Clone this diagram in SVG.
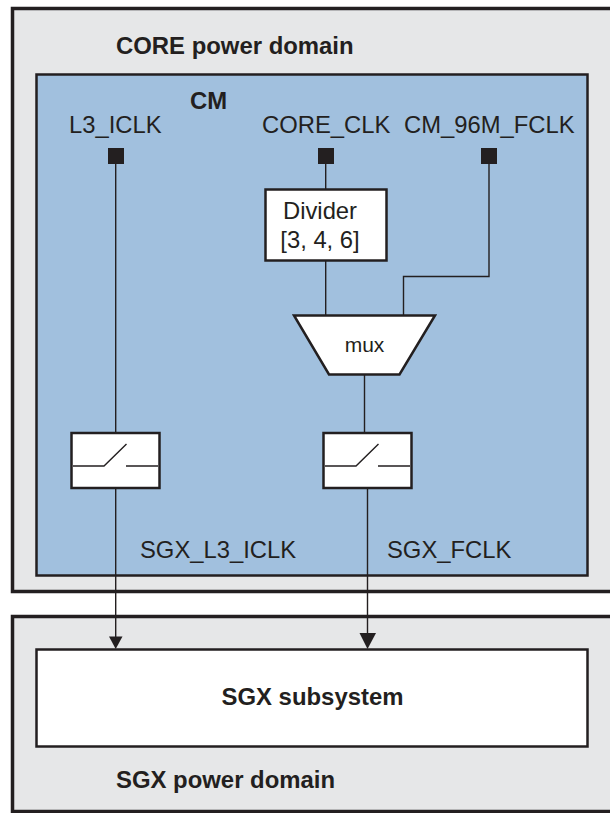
<svg xmlns="http://www.w3.org/2000/svg" width="610" height="813" viewBox="0 0 610 813">
<style>
text{font-family:"Liberation Sans",Arial,sans-serif;fill:#231f20}
.b{font-weight:bold;font-size:23.900px}
.t{font-size:23.800px}
.dom{fill:#e6e7e8;stroke:#231f20;stroke-width:3.5}
.box{fill:#fff;stroke:#231f20;stroke-width:2.5}
.w{fill:none;stroke:#231f20;stroke-width:1.4}
.pin{fill:#231f20}
</style>
<rect width="610" height="813" fill="#fff"/>
<g id="core-domain">
<rect class="dom" x="12.500" y="8.500" width="620" height="583"/>
<text class="b" x="116" y="54">CORE power domain</text>
</g>
<g id="cm">
<rect x="36.500" y="74.500" width="551" height="501" fill="#a1c0de" stroke="#231f20" stroke-width="2.500"/>
<text class="b" x="190" y="109">CM</text>
</g>
<g id="sgx-domain">
<rect class="dom" x="12.500" y="616.500" width="620" height="195"/>
<text class="b" x="116" y="788">SGX power domain</text>
</g>
<g id="connectors">
<path class="w" d="M115.700 163V433"/>
<path class="w" d="M325.700 163V190"/>
<path class="w" d="M325.700 261V315"/>
<path class="w" d="M489 163V276.500H403.500V315"/>
<path class="w" d="M364.500 375V433"/>
<path class="w" d="M115.700 488V637"/>
<path class="w" d="M367.500 488V634"/>
<path class="pin" d="M109 636.500H122.500L115.700 649Z"/>
<path class="pin" d="M359.500 633H376L367.500 649Z"/>
</g>
<g id="sgx-subsystem">
<rect x="36.500" y="649.500" width="551" height="97" fill="#fff" stroke="#231f20" stroke-width="2.500"/>
<text class="b" x="312.500" y="705" text-anchor="middle">SGX subsystem</text>
</g>
<g id="l3-iclk">
<rect class="pin" x="108" y="148" width="16" height="16"/>
<text class="t" x="69" y="133">L3_ICLK</text>
</g>
<g id="core-clk">
<rect class="pin" x="318" y="148" width="16" height="16"/>
<text class="t" x="262" y="133">CORE_CLK</text>
</g>
<g id="cm-96m-fclk">
<rect class="pin" x="481" y="148" width="16" height="16"/>
<text class="t" x="404" y="133">CM_96M_FCLK</text>
</g>
<g id="divider">
<rect class="box" x="265.500" y="189.500" width="121" height="71"/>
<text class="t" x="320" y="219" text-anchor="middle">Divider</text>
<text class="t" x="320" y="248" text-anchor="middle">[3, 4, 6]</text>
</g>
<g id="mux">
<path class="box" d="M294 315.500H435L399.500 374.500H329Z"/>
<text x="364.500" y="352" text-anchor="middle" font-size="21">mux</text>
</g>
<g id="switch-l3">
<rect class="box" x="71.500" y="433" width="88" height="55"/>
<path class="w" d="M73 466H104L126.500 444M126 466H158"/>
</g>
<g id="switch-f">
<rect class="box" x="323.500" y="433" width="88" height="55"/>
<path class="w" d="M325 466H356L378.500 444M378 466H410"/>
</g>
<g id="labels">
<text class="t" x="140" y="558">SGX_L3_ICLK</text>
<text class="t" x="387" y="558">SGX_FCLK</text>
</g>
</svg>
